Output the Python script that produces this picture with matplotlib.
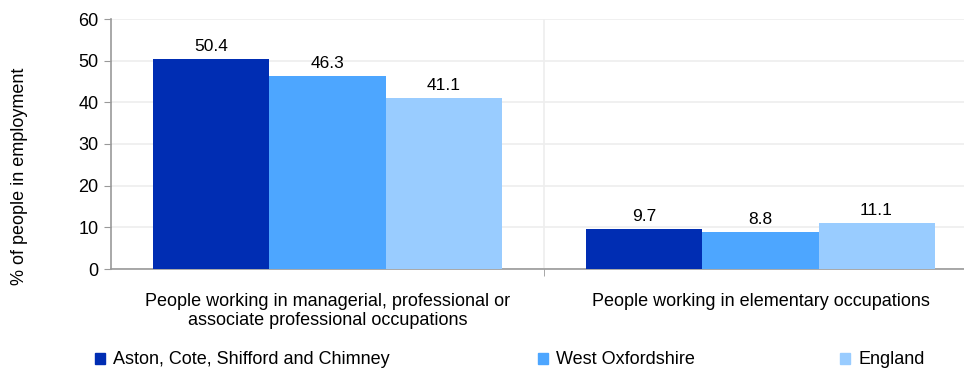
import numpy as np
from matplotlib import pyplot as plt
from matplotlib.patches import Patch

plt.rcParams['font.family'] = ['Liberation Sans', 'DejaVu Sans']

categories = ['People working in managerial, professional or\nassociate professional occupations',
              'People working in elementary occupations']
series = ['Aston, Cote, Shifford and Chimney', 'West Oxfordshire', 'England']
values = [[50.4, 9.7], [46.3, 8.8], [41.1, 11.1]]
colors = ['#002db3', '#4da6ff', '#99ccff']

fig = plt.figure(figsize=(9.64, 3.70), dpi=100)
ax = fig.add_axes([111 / 964, 1 - 269 / 370, (964 - 111) / 964, 250 / 370])

x = np.arange(len(categories))
w = 0.268
for i, (name, vals) in enumerate(zip(series, values)):
    pos = x + (i - 1) * w
    ax.bar(pos, vals, width=w, color=colors[i], label=name, zorder=3)
    for px, v in zip(pos, vals):
        ax.text(px, v + 1.2, f'{v:.1f}', ha='center', va='bottom', fontsize=12.5)

ax.set_ylim(0, 60)
ax.set_yticks(range(0, 61, 10))
ax.set_xlim(-0.5, 853 / 433 - 0.5)
ax.set_xticks(x)
ax.set_xticklabels(categories, fontsize=13)
ax.tick_params(axis='x', length=0, pad=17)
ax.tick_params(axis='y', labelsize=13, color='#999999', length=5, pad=4)
ax.set_xticks([0.5], minor=True)
ax.tick_params(axis='x', which='minor', length=5, color='#999999')

ax.grid(axis='y', color='#eeeeee', linewidth=1.2, zorder=0)
ax.axvline(0.5, color='#eeeeee', linewidth=1.2, zorder=0)
for s in ['top', 'right']:
    ax.spines[s].set_visible(False)
for s in ['left', 'bottom']:
    ax.spines[s].set_color('#999999')
    ax.spines[s].set_linewidth(1.2)

ax.set_ylabel('% of people in employment', fontsize=13)
ax.yaxis.set_label_coords((28 - 111) / 853, (269 - 176) / 250)

# one legend entry per anchor so the spacing matches the reference
anchors = [95, 538, 840]
for c, name, ax0 in zip(colors, series, anchors):
    fig.legend([Patch(color=c)], [name], loc='center left',
               bbox_to_anchor=(ax0 / 964, 10 / 370), frameon=False, fontsize=13,
               handlelength=0.55, handleheight=0.55, handletextpad=0.45,
               borderpad=0, borderaxespad=0)

fig.savefig('out.png', dpi=100)
